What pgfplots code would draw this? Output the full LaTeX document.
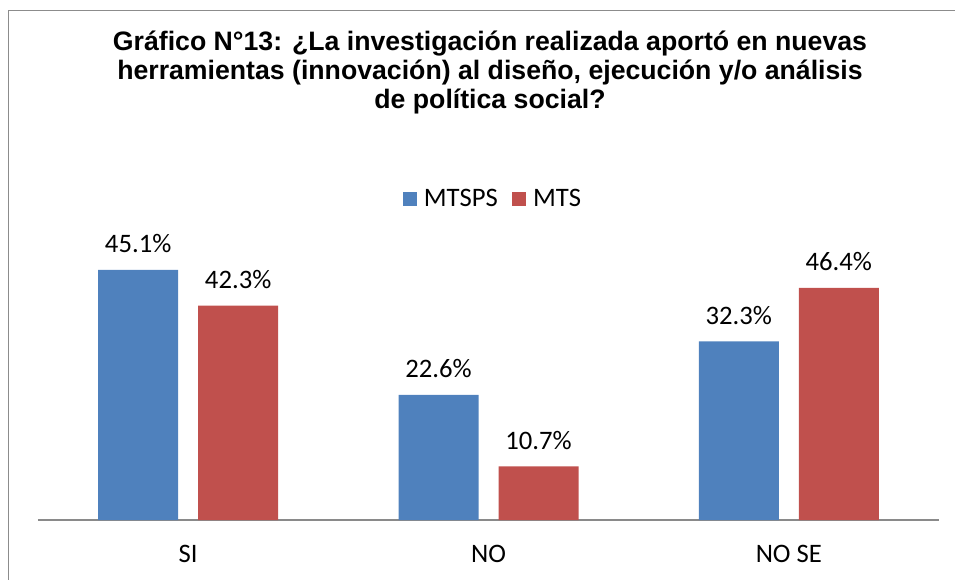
\documentclass[border=0pt]{standalone}
\usepackage{pgfplots}
\pgfplotsset{compat=1.18}
\usepackage{fontspec}
\setmainfont{Carlito}
\newfontfamily\titlefont{Liberation Sans}
\definecolor{mtsps}{HTML}{4F81BD}
\definecolor{mts}{HTML}{C0504D}
\definecolor{framegray}{HTML}{8C8C8C}
\definecolor{axisgray}{HTML}{8A8A8A}
\begin{document}
\begin{tikzpicture}
% picture 955 x 579 px, 1 px = 0.75pt
\path[use as bounding box] (0pt,0pt) rectangle (716.25pt,434.25pt);
\draw[framegray, line width=1.3pt] (6.4pt,-2pt) -- (6.4pt,426.4pt) -- (720pt,426.4pt);
\node[font=\titlefont\bfseries\fontsize{20}{21.5}\selectfont, align=center]
  at (367.5pt,380pt) {Gráfico N°13: ¿La investigación realizada aportó en nuevas\\
  herramientas (innovación) al diseño, ejecución y/o análisis\\
  de política social?};
\begin{axis}[
    at={(28.5pt,44.25pt)}, anchor=south west,
    scale only axis,
    width=675.75pt, height=267.9pt,
    xmin=-0.5, xmax=2.5, ymin=0, ymax=20,
    ybar=15pt, bar width=60pt,
    axis x line*=bottom, axis y line=none,
    axis line style={draw=axisgray, line width=0.8pt, -},
    xtick={0,1,2}, xticklabels={SI,NO,NO SE},
    xtick style={draw=none},
    xticklabel style={font=\fontsize{20}{22}\selectfont, yshift=-11pt},
    ytick=\empty,
    nodes near coords,
    point meta=explicit symbolic,
    every node near coord/.append style={font=\fontsize{20}{22}\selectfont, anchor=center, yshift=19.5pt, text=black},
    legend style={at={(0.5055,0.899)}, anchor=center, draw=none, fill=none,
        legend columns=2, font=\fontsize{20}{22}\selectfont,
        /tikz/every odd column/.append style={column sep=3pt},
        /tikz/every even column/.append style={column sep=9pt}},
]
\addplot[fill=mtsps, draw=none,
    legend image code/.code={\fill[mtsps] (0pt,-5.25pt) rectangle (10.5pt,5.25pt);}]
  coordinates {(0,14) [45.1\%] (1,7) [22.6\%] (2,10) [32.3\%]};
\addplot[fill=mts, draw=none,
    legend image code/.code={\fill[mts] (0pt,-5.25pt) rectangle (10.5pt,5.25pt);}]
  coordinates {(0,12) [42.3\%] (1,3) [10.7\%] (2,13) [46.4\%]};
\legend{MTSPS, MTS}
\end{axis}
\end{tikzpicture}
\end{document}
